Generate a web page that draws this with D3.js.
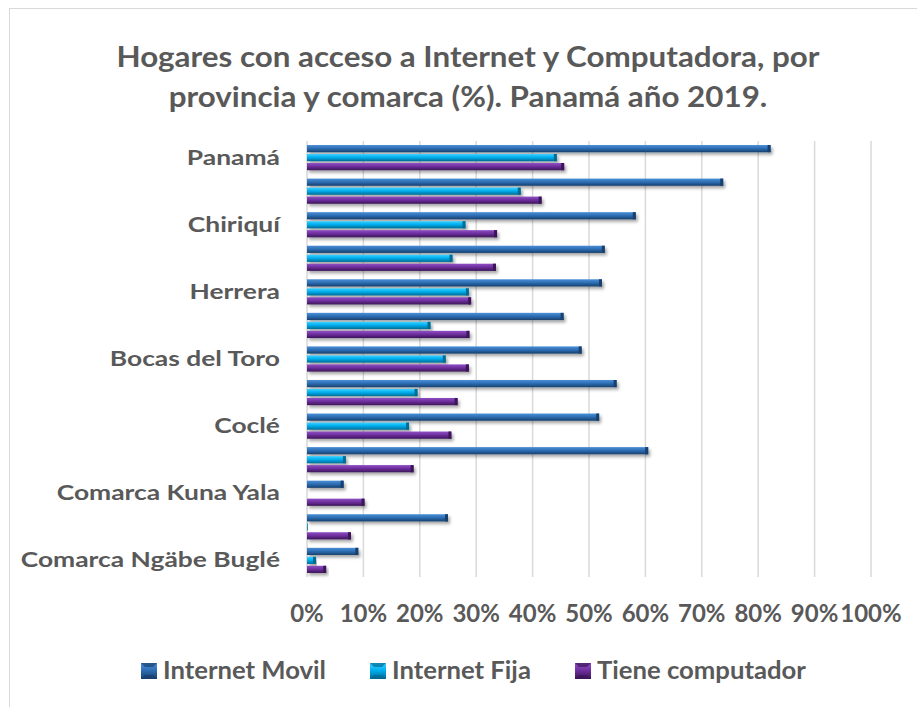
<!DOCTYPE html>
<html><head><meta charset="utf-8">
<script src="https://cdn.jsdelivr.net/npm/d3@7"></script>
<style>
html,body{margin:0;padding:0;background:#fff;}
text{font-family:Lato,"Open Sans",sans-serif;font-weight:bold;fill:#595959;}
</style></head>
<body><svg id="chart" width="917" height="707"></svg>
<script>
const categories = ["Panamá","Panamá Oeste","Chiriquí","Colón","Herrera","Los Santos","Bocas del Toro","Veraguas","Coclé","Darién","Comarca Kuna Yala","Comarca Emberá","Comarca Ngäbe Buglé"];
const internetMovil = [82.2,73.8,58.3,52.8,52.3,45.5,48.7,54.9,51.8,60.5,6.5,25.0,9.1];
const internetFija = [44.3,37.9,28.1,25.8,28.7,21.9,24.6,19.6,18.1,6.9,0,0.1,1.6];
const tieneComputador = [45.6,41.6,33.7,33.5,29.1,28.8,28.7,26.7,25.6,18.9,10.2,7.8,3.4];
const seriesNames = ["Internet Movil","Internet Fija","Tiene computador"];
const tickValues = [0,10,20,30,40,50,60,70,80,90,100];
const titleLines = ["Hogares con acceso a Internet y Computadora, por","provincia y comarca (%). Panamá año 2019."];

const colors = [
  {light:"#4a8fd6", mid:"#2e6fb5", dark:"#17406e"},
  {light:"#3fd0ff", mid:"#00b0f0", dark:"#006b94"},
  {light:"#8f4fc4", mid:"#7030a0", dark:"#3c1559"}
];
const seriesData = [internetMovil, internetFija, tieneComputador];

const svg = d3.select("#chart");
const defs = svg.append("defs");
colors.forEach((c,i)=>{
  const g = defs.append("linearGradient").attr("id","g"+i).attr("x1",0).attr("y1",0).attr("x2",0).attr("y2",1);
  g.append("stop").attr("offset","0%").attr("stop-color",c.light);
  g.append("stop").attr("offset","45%").attr("stop-color",c.mid);
  g.append("stop").attr("offset","100%").attr("stop-color",c.dark);
});
const f = defs.append("filter").attr("id","sh").attr("x","-5%").attr("y","-50%").attr("width","115%").attr("height","250%");
f.append("feDropShadow").attr("dx",2).attr("dy",2.5).attr("stdDeviation",1.8).attr("flood-color","#000").attr("flood-opacity",0.35);

function stretch(sel, factor){
  sel.each(function(){
    const w = this.getComputedTextLength();
    d3.select(this).attr("textLength", w*factor).attr("lengthAdjust","spacingAndGlyphs");
  });
}

// chart border
svg.append("rect").attr("x",9.5).attr("y",8.5).attr("width",930).attr("height",720)
  .attr("fill","none").attr("stroke","#d9d9d9").attr("stroke-width",1);

// title
const tt = svg.selectAll("text.title").data(titleLines).join("text").attr("class","title")
  .attr("x",468).attr("y",(d,i)=>67+i*40).attr("text-anchor","middle")
  .style("font-size","28px").text(d=>d);
stretch(tt, 1.12);

const x = d3.scaleLinear().domain([0,100]).range([307,871]);
const y = d3.scaleBand().domain(categories).range([141,577]).paddingInner(0.25).paddingOuter(0.12);
const yi = d3.scaleBand().domain([0,1,2]).range([0,y.bandwidth()]).paddingInner(0.2);

// gridlines
svg.append("g").selectAll("line").data(tickValues).join("line")
  .attr("x1",d=>x(d)).attr("x2",d=>x(d)).attr("y1",141).attr("y2",577)
  .attr("stroke","#d9d9d9").attr("stroke-width",1.5);

// bars
const gGroups = svg.append("g").selectAll("g").data(categories).join("g")
  .attr("transform",d=>`translate(0,${y(d)})`);
gGroups.each(function(cat,ci){
  const g = d3.select(this);
  seriesData.forEach((arr,si)=>{
    const v = arr[ci];
    const w = x(v)-x(0);
    const h = yi.bandwidth();
    if (w <= 0) return;
    g.append("rect").attr("x",x(0)).attr("y",yi(si)).attr("width",w).attr("height",h)
      .attr("fill",`url(#g${si})`).attr("filter","url(#sh)");
    const cap = Math.min(3,w);
    g.append("path")
      .attr("d",`M${x(v)-cap},${yi(si)} L${x(v)},${yi(si)} L${x(v)},${yi(si)+h} L${x(v)-cap},${yi(si)+h} Z`)
      .attr("fill",colors[si].dark);
  });
});

// category labels (every other)
const cl = svg.append("g").selectAll("text").data(categories.filter((d,i)=>i%2===0)).join("text")
  .attr("x",280).attr("y",d=>y(d)+y.bandwidth()/2).attr("dy","0.35em")
  .attr("text-anchor","end").style("font-size","20px").text(d=>d);
stretch(cl, 1.32);

// x tick labels
const tl = svg.append("g").selectAll("text").data(tickValues).join("text")
  .attr("x",d=>x(d)).attr("y",614).attr("dy","0.35em").attr("text-anchor","middle")
  .style("font-size","24px").text(d=>d+"%");

// legend
const legX = [141,370,575];
const leg = svg.append("g").selectAll("g").data(seriesNames).join("g")
  .attr("transform",(d,i)=>`translate(${legX[i]},671)`);
leg.append("rect").attr("x",0).attr("y",-8).attr("width",16).attr("height",16)
  .attr("fill",(d,i)=>`url(#g${i})`);
leg.append("path").attr("d","M0,-8 L16,-8 L12,-4 L4,-4 Z M4,4 L12,4 L16,8 L0,8 Z").attr("fill",(d,i)=>colors[i].dark).attr("opacity",0.7);
const lt = leg.append("text").attr("x",22).attr("dy","0.35em").style("font-size","24px").text(d=>d);
stretch(lt, 1.07);
</script></body></html>
